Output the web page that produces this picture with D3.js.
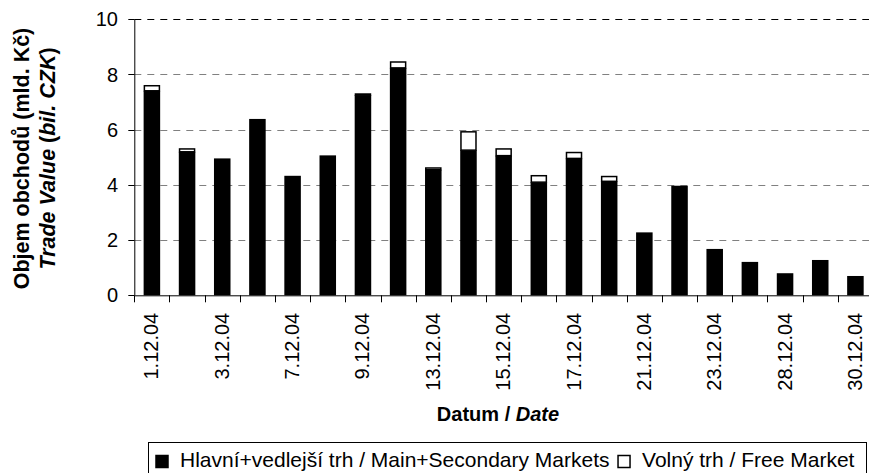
<!DOCTYPE html>
<html>
<head>
<meta charset="utf-8">
<script src="https://cdn.jsdelivr.net/npm/d3@7"></script>
<style>
  body { margin: 0; background: #fff; }
  svg { display: block; font-family: Arial, "Liberation Sans", sans-serif; }
</style>
</head>
<body>
<svg id="chart" viewBox="0 0 869 473" width="869" height="473"></svg>
<script>
// trading days, December 2004
const dates = ["1.12.04","2.12.04","3.12.04","6.12.04","7.12.04","8.12.04","9.12.04","10.12.04",
  "13.12.04","14.12.04","15.12.04","16.12.04","17.12.04","20.12.04","21.12.04","22.12.04",
  "23.12.04","27.12.04","28.12.04","29.12.04","30.12.04"]
// Hlavni+vedlejsi trh (bil. CZK)
const mainMarket = [7.41,5.20,4.96,6.39,4.33,5.07,7.25,8.24,4.55,5.26,5.06,4.10,4.96,4.13,2.28,3.97,1.68,1.21,0.80,1.28,0.70]
// Volny trh (bil. CZK)
const freeMarket = [0.21,0.13,0,0,0,0,0.07,0.24,0.09,0.69,0.27,0.26,0.24,0.20,0,0,0,0,0,0,0]
const yTicks = [0,2,4,6,8,10]
const legendLabels = ["Hlavní+vedlejší trh / Main+Secondary Markets", "Volný trh / Free Market"]

const rows = dates.map((d,i) => ({date: d, main: mainMarket[i], free: freeMarket[i]}))

const svg = d3.select("#chart")
const plotLeft = 134.3, plotRight = 873, plotTop = 19.3, plotBottom = 295.3

const x = d3.scaleBand()
    .domain(dates)
    .range([plotLeft, plotRight])
    .paddingInner(0.53)
    .paddingOuter(0.265)

const y = d3.scaleLinear()
    .domain([0,10])
    .range([plotBottom, plotTop])

// gridlines
svg.append("g")
    .selectAll("line")
    .data(yTicks.filter(d => d > 0))
    .enter()
    .append("line")
    .attr("x1", plotLeft)
    .attr("x2", plotRight)
    .attr("y1", d => Math.round(y(d)) + 0.5)
    .attr("y2", d => Math.round(y(d)) + 0.5)
    .attr("stroke", d => d === 10 ? "#000" : "#808080")
    .attr("stroke-width", 1)
    .attr("stroke-dasharray", "7,6")

// bars
const bars = svg.append("g")
    .selectAll("g")
    .data(rows)
    .enter()
    .append("g")

bars.append("rect")
    .attr("x", d => x(d.date))
    .attr("width", x.bandwidth())
    .attr("y", d => y(d.main))
    .attr("height", d => y(0) - y(d.main))
    .attr("fill", "#000")

bars.filter(d => d.free > 0)
    .append("rect")
    .attr("x", d => x(d.date) + 0.75)
    .attr("width", x.bandwidth() - 1.5)
    .attr("y", d => y(d.main + d.free) + 0.75)
    .attr("height", d => Math.max(0.1, y(d.main) - y(d.main + d.free) - 0.75))
    .attr("fill", "#fff")
    .attr("stroke", "#000")
    .attr("stroke-width", 1.5)

// y axis
const yAxis = svg.append("g")
yAxis.append("line")
    .attr("x1", plotLeft + 0.5).attr("x2", plotLeft + 0.5)
    .attr("y1", plotTop).attr("y2", plotBottom)
    .attr("stroke", "#000")
yAxis.selectAll(".tick")
    .data(yTicks)
    .enter()
    .append("line")
    .attr("x1", plotLeft - 6).attr("x2", plotLeft)
    .attr("y1", d => Math.round(y(d)) + 0.5)
    .attr("y2", d => Math.round(y(d)) + 0.5)
    .attr("stroke", "#000")
yAxis.selectAll("text")
    .data(yTicks)
    .enter()
    .append("text")
    .attr("x", 118)
    .attr("y", d => y(d) + 7)
    .attr("text-anchor", "end")
    .style("font-size", "20px")
    .text(d => d)

// x axis
const xAxis = svg.append("g")
xAxis.append("line")
    .attr("x1", plotLeft).attr("x2", plotRight)
    .attr("y1", plotBottom + 0.5).attr("y2", plotBottom + 0.5)
    .attr("stroke", "#000")
xAxis.selectAll(".tick")
    .data(d3.range(dates.length + 1))
    .enter()
    .append("line")
    .attr("x1", i => Math.round(plotLeft + i * x.step()) + 0.5)
    .attr("x2", i => Math.round(plotLeft + i * x.step()) + 0.5)
    .attr("y1", plotBottom)
    .attr("y2", plotBottom + 7)
    .attr("stroke", "#000")
xAxis.selectAll("text")
    .data(dates.filter((d,i) => i % 2 === 0))
    .enter()
    .append("text")
    .attr("transform", d => `translate(${x(d) + x.bandwidth()/2 + 6.5},${plotBottom + 17.5}) rotate(-90)`)
    .attr("text-anchor", "end")
    .style("font-size", "20px")
    .text(d => d)

// axis titles
const xTitle = svg.append("text")
    .attr("x", 498)
    .attr("y", 421)
    .attr("text-anchor", "middle")
    .style("font-size", "20px")
    .style("font-weight", "bold")
xTitle.append("tspan").text("Datum / ")
xTitle.append("tspan").style("font-style", "italic").text("Date")

const yTitle = svg.append("g")
    .attr("transform", `translate(0,158.5) rotate(-90)`)
    .style("font-size", "21.5px")
    .style("font-weight", "bold")
    .attr("text-anchor", "middle")
yTitle.append("text")
    .attr("x", 0).attr("y", 28.5)
    .text("Objem obchodů (mld. Kč)")
const yT2 = yTitle.append("text")
    .attr("x", 0).attr("y", 54.5)
yT2.append("tspan").style("font-style", "italic").text("Trade Value")
yT2.append("tspan").text(" (")
yT2.append("tspan").style("font-style", "italic").text("bil. CZK")
yT2.append("tspan").text(")")

// legend
const legend = svg.append("g")
legend.append("rect")
    .attr("x", 148.5).attr("y", 442.5)
    .attr("width", 718).attr("height", 34)
    .attr("fill", "#fff")
    .attr("stroke", "#000")

let lx = 155.5
legendLabels.forEach((label, i) => {
    legend.append("rect")
        .attr("x", lx + 0.5).attr("y", 455.5)
        .attr("width", 12).attr("height", 12)
        .attr("fill", i === 0 ? "#000" : "#fff")
        .attr("stroke", "#000")
        .attr("stroke-width", 1.5)
    const t = legend.append("text")
        .attr("x", lx + 24.5)
        .attr("y", 467)
        .style("font-size", "21px")
        .text(label)
    lx = lx + 24.5 + t.node().getComputedTextLength() + 8
})
</script>
</body>
</html>
